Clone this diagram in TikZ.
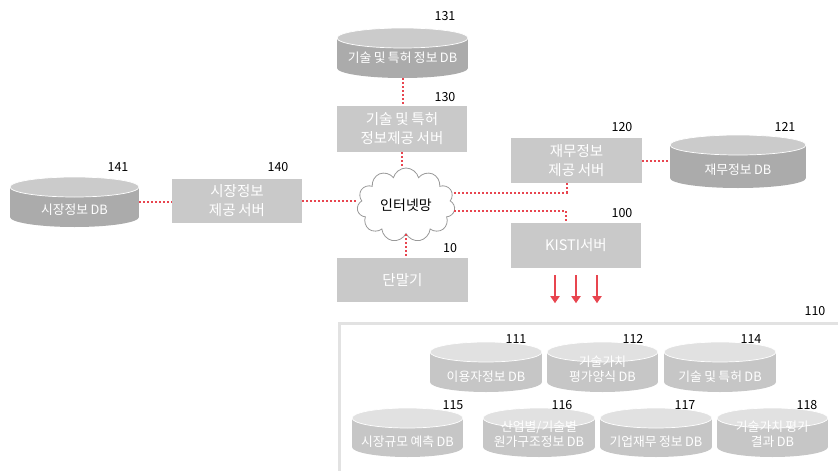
\documentclass[tikz,border=0pt]{standalone}
\usepackage{fontspec}
\setmainfont[WordSpace=0.85]{Noto Sans CJK KR}
\usetikzlibrary{shapes.symbols,arrows.meta}

\definecolor{linkred}{HTML}{E8454F}
\definecolor{boxgray}{HTML}{C9C9C9}
\definecolor{darkbody}{HTML}{ABABAB}
\definecolor{darktop}{HTML}{CBCBCB}
\definecolor{lightbody}{HTML}{C6C6C6}
\definecolor{lighttop}{HTML}{E1E1E1}
\definecolor{framegray}{HTML}{E2E2E2}

\tikzset{
  server/.style={fill=boxgray, text=white, align=center, inner sep=0pt,
    font=\fontsize{14.5}{19}\selectfont},
  dbtext/.style={text=white, align=center, inner sep=0pt,
    font=\fontsize{12.8}{15}\selectfont},
  num/.style={text=black, inner sep=0pt, font=\fontsize{12.5}{13}\selectfont},
  link/.style={linkred, line width=2pt, dash pattern=on 2pt off 2pt},
  arr/.style={linkred, line width=1.8pt, -{Triangle[width=9pt,length=7pt]}},
  frame/.style={draw=framegray, line width=3pt, inner sep=0pt}
}

% name, centre x, top, bottom, half width, colour set, text y, text
\newcommand{\dbcyl}[8]{%
  \fill[#6body] (#2-#5,#3+10) rectangle (#2+#5,#4-10);
  \fill[#6body] (#2,#4-10) ellipse [x radius=#5, y radius=10];
  \filldraw[fill=#6top, draw=white, line width=0.7pt] (#2,#3+10) ellipse [x radius=#5, y radius=10];
  \node[inner sep=0pt, minimum width=2*#5, minimum height=#4-#3] (#1) at (#2,{(#3+#4)/2}) {};
  \node[dbtext] (#1-t) at (#2,#7) {#8};
}

\begin{document}
\begin{tikzpicture}[x=1pt,y=-1pt]
\useasboundingbox (0,0) rectangle (838,471);
\clip (0,0) rectangle (838,471);

% outer databases
\dbcyl{db131}{402.5}{28}{78}{65.5}{dark}{58}{기술 및 특허 정보 DB}
\dbcyl{db141}{74.5}{177}{227}{64.5}{dark}{210}{시장정보 DB}
\dbcyl{db121}{738}{135}{188}{68}{dark}{170}{재무정보 DB}

% servers and terminal
\node[server, minimum width=130, minimum height=46] (s130) at (402,129) {기술 및 특허\\정보제공 서버};
\node[server, minimum width=130, minimum height=44] (s140) at (237,201) {시장정보\\제공 서버};
\node[server, minimum width=131, minimum height=45] (s120) at (576.5,160.5) {재무정보\\제공 서버};
\node[server, minimum width=130, minimum height=45] (s100) at (576,245.5) {KISTI서버};
\node[server, minimum width=131, minimum height=44] (t10) at (402.5,280) {단말기};
\node[cloud, cloud puffs=11, cloud ignores aspect, draw=gray!80, fill=white, line width=0.8pt,
  minimum width=98, minimum height=74, inner sep=0pt, font=\fontsize{14}{14}\selectfont] (net) at (406,205) {인터넷망};

% KISTI databases
\node[frame, minimum width=520, minimum height=170, anchor=north west] (f110) at (338,322) {};
\dbcyl{db111}{486}{342}{392}{56}{light}{377}{이용자정보 DB}
\dbcyl{db112}{602.5}{342}{392}{55.5}{light}{369.5}{기술가치\\평가양식 DB}
\dbcyl{db114}{720}{342}{392}{56}{light}{377}{기술 및 특허 DB}
\dbcyl{db115}{407.5}{408}{457}{55.5}{light}{442}{시장규모 예측 DB}
\dbcyl{db116}{539}{408}{457}{56}{light}{434.5}{산업별/기술별\\원가구조정보 DB}
\dbcyl{db117}{656}{408}{457}{56}{light}{442}{기업재무 정보 DB}
\dbcyl{db118}{772.5}{408}{457}{55.5}{light}{434.5}{기술가치 평가\\결과 DB}

% reference numbers
\node[num] (n131) at (445,16) {131};
\node[num] (n130) at (445,97) {130};
\node[num] (n141) at (118,167) {141};
\node[num] (n140) at (278,167) {140};
\node[num] (n120) at (622,127) {120};
\node[num] (n121) at (785,127) {121};
\node[num] (n100) at (622,213) {100};
\node[num] (n10) at (450,248) {10};
\node[num] (n110) at (815,311) {110};
\node[num] (n111) at (516,339) {111};
\node[num] (n112) at (633,339) {112};
\node[num] (n114) at (751,339) {114};
\node[num] (n115) at (453,405) {115};
\node[num] (n116) at (562,405) {116};
\node[num] (n117) at (685,405) {117};
\node[num] (n118) at (807,405) {118};

% links
\draw[link] (db131.south) -- (db131.south |- s130.north);
\draw[link] (s130.south) -- (s130.south |- net.north);
\draw[link] (net.south) -- (net.south |- t10.north);
\draw[link] (db141.east) -- (db141.east -| s140.west);
\draw[link] (s140.east) -- (s140.east -| net.west);
\draw[link] (s120.east) -- (s120.east -| db121.west);
\draw[link] ([yshift=12pt]net.east) -| ([xshift=-10pt]s120.south);
\draw[link] ([yshift=-6pt]net.east) -| ([xshift=-10pt]s100.north);
\foreach \dx in {-21,0,21}
  \draw[arr] ([xshift=\dx pt, yshift=-7pt]s100.south) -- ++(0,28);
\end{tikzpicture}
\end{document}
